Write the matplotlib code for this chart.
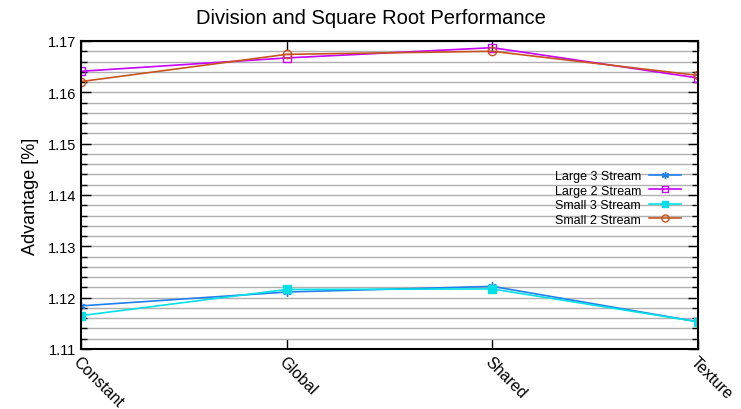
import matplotlib
matplotlib.use("Agg")
import matplotlib.pyplot as plt
from matplotlib.ticker import MultipleLocator

plt.rcParams['font.family'] = ['Liberation Sans', 'DejaVu Sans']

categories = ["Constant", "Global", "Shared", "Texture"]
large3 = [1.1184, 1.1211, 1.1222, 1.1153]
large2 = [1.1641, 1.1667, 1.1687, 1.1628]
small3 = [1.1165, 1.1216, 1.1217, 1.1153]
small2 = [1.1621, 1.1674, 1.1680, 1.1633]

fig = plt.figure(figsize=(7.41, 4.10), dpi=100)
ax = fig.add_axes([81/741, 60/410, (698-81)/741, (350-42)/410])

x = list(range(len(categories)))
ax.plot(x, large3, color='#1f7fef', marker=(6, 2, 0), markersize=6, lw=1.2, label='Large 3 Stream')
ax.plot(x, large2, color='#c800ff', marker='s', markersize=5.5, mfc='none', lw=1.2, label='Large 2 Stream')
ax.plot(x, small3, color='#00e0e6', marker='s', markersize=5.5, lw=1.2, label='Small 3 Stream')
ax.plot(x, small2, color='#c8541c', marker='o', markersize=6, mfc='none', lw=1.2, label='Small 2 Stream')

ax.set_xlim(0, 3)
ax.set_ylim(1.11, 1.17)
ax.yaxis.set_major_locator(MultipleLocator(0.01))
ax.yaxis.set_minor_locator(MultipleLocator(0.002))
ax.set_yticklabels([f"{v:.2f}" for v in ax.get_yticks()])
ax.set_xticks(x)
ax.set_xticklabels(categories, rotation=-45, ha='left', va='top', rotation_mode='anchor', fontsize=11.5)
ax.tick_params(axis='y', labelsize=10.5)
ax.grid(True, which='both', axis='y', color='#b0b0b0', lw=1.0)
ax.set_axisbelow(True)
ax.tick_params(which='both', direction='in', top=True, right=True)
ax.tick_params(which='major', length=7, width=1)
ax.tick_params(which='minor', length=4, width=1)
for s in ax.spines.values():
    s.set_linewidth(1.5)

ax.set_ylabel('Advantage [%]', fontsize=13, labelpad=6)
fig.text(0.5, 1 - 19/410, 'Division and Square Root Performance', ha='center', va='center', fontsize=14.5)

ax.legend(loc='upper right', bbox_to_anchor=(686/741, 1 - 166/410), bbox_transform=fig.transFigure,
          frameon=False, markerfirst=False, fontsize=9, handlelength=2.6, labelspacing=0.2,
          handletextpad=0.6, borderaxespad=0, markerscale=0.85)

fig.savefig('out.png', dpi=100)
